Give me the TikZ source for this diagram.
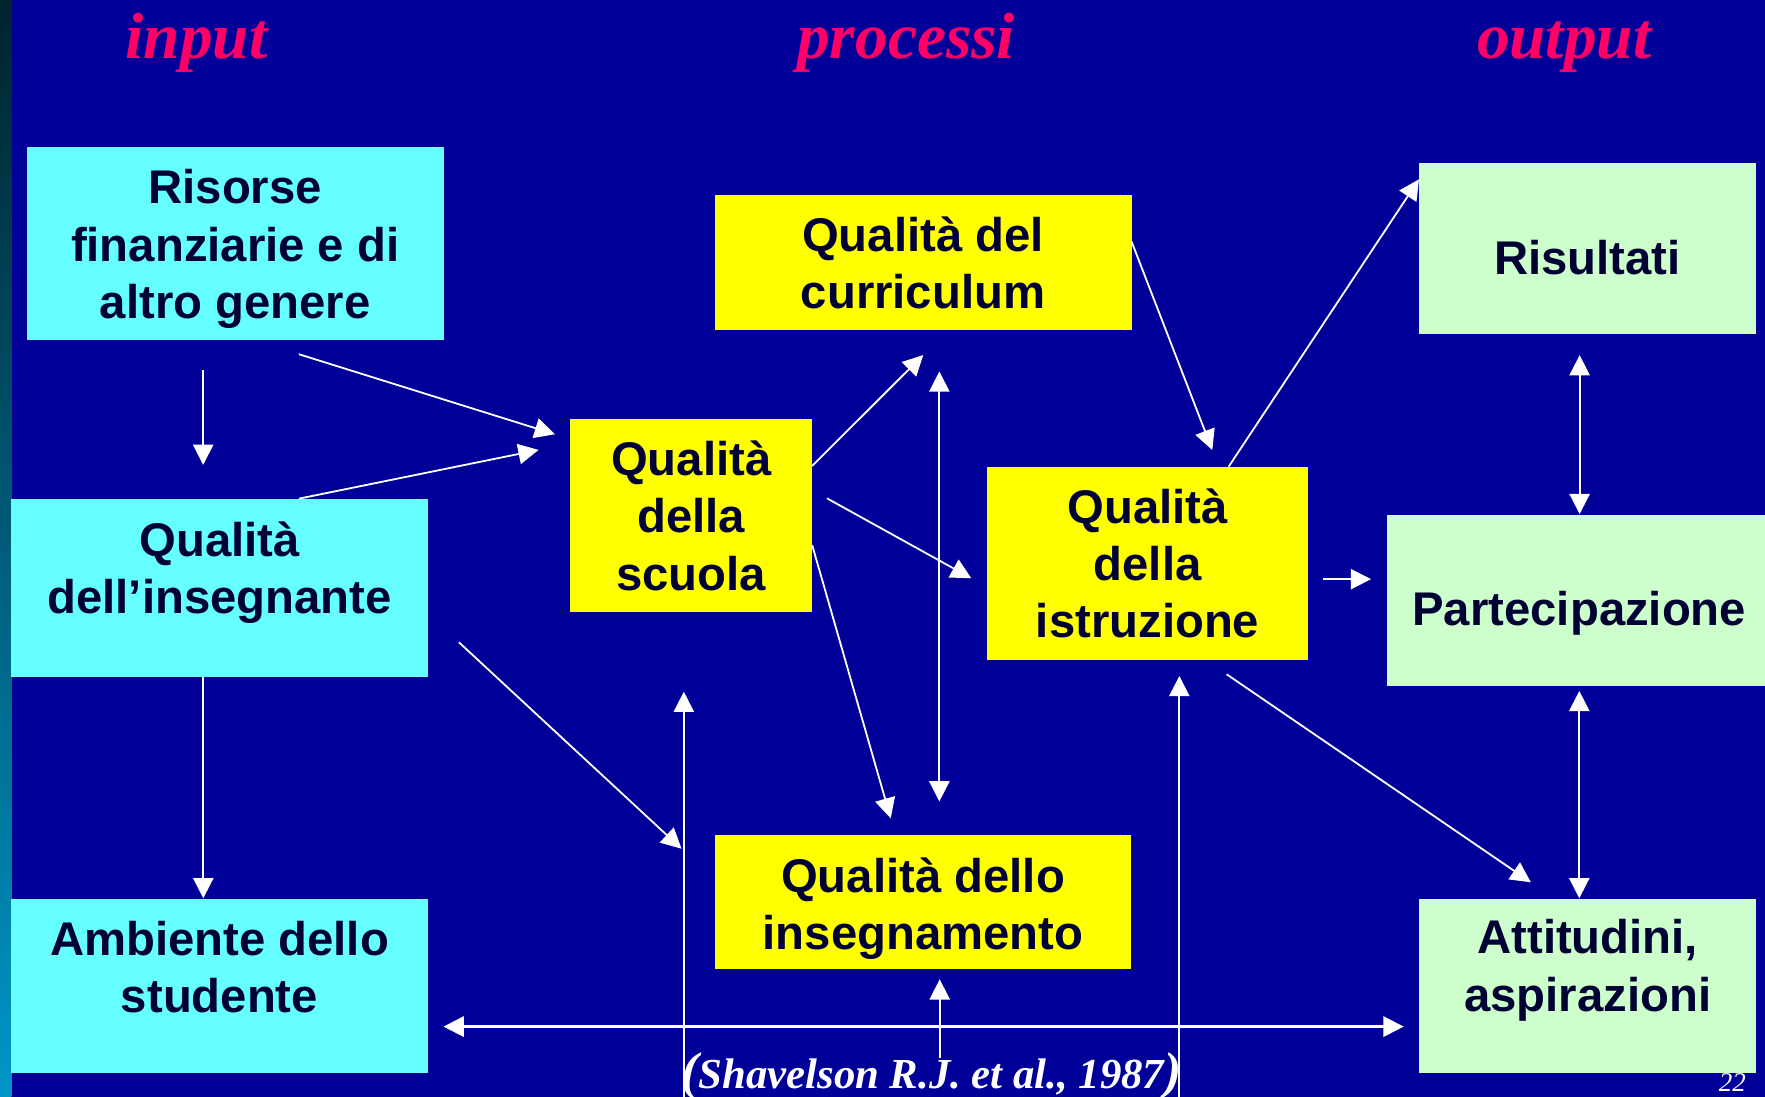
\documentclass[tikz,border=0pt]{standalone}
\usepackage{fontspec}
\setmainfont{Liberation Serif}
\setsansfont{Liberation Sans}
\usetikzlibrary{arrows.meta}
\definecolor{bg}{RGB}{0,0,153}
\definecolor{cyanbox}{RGB}{102,255,255}
\definecolor{yellowbox}{RGB}{255,255,0}
\definecolor{greenbox}{RGB}{204,255,204}
\definecolor{boxtext}{RGB}{0,0,51}
\definecolor{titlered}{RGB}{255,0,102}
\definecolor{stripA}{RGB}{0,35,45}
\definecolor{stripB}{RGB}{0,110,140}
\definecolor{stripC}{RGB}{0,150,200}
\newcommand{\ls}{\rule[-5.5pt]{0pt}{25.5pt}}
\newcommand{\bigpar}[1]{{\fontsize{23}{26}\selectfont #1}}
\tikzset{
  box/.style={rectangle, inner sep=0pt, outer sep=0pt},
  cbox/.style={box, fill=cyanbox},
  ybox/.style={box, fill=yellowbox},
  gbox/.style={box, fill=greenbox},
  lbl/.style={anchor=north, align=center, inner sep=0pt, text=boxtext,
    font=\sffamily\bfseries\fontsize{21}{25.5}\selectfont},
  ttl/.style={anchor=base, inner sep=0pt, text=titlered,
    font=\rmfamily\bfseries\itshape\fontsize{29}{34}\selectfont},
  arr/.style={draw=white, line width=0.8pt, -{Triangle[length=9pt,width=9pt]}},
  darr/.style={draw=white, line width=0.8pt,
    {Triangle[length=9pt,width=9pt]}-{Triangle[length=9pt,width=9pt]}},
  plainline/.style={draw=white, line width=0.8pt}
}
\begin{document}
\begin{tikzpicture}[x=0.5pt,y=-0.5pt]
\useasboundingbox (0,0) rectangle (1568,974.5);
\clip (0,0) rectangle (1568,974.5);
\fill[bg] (0,0) rectangle (1568,974.5);
\shade[top color=stripA, middle color=stripB, bottom color=stripC] (0,0) rectangle (10,974.5);

% titles
\node[ttl] (tin) at (174.5,52) {input};
\node[ttl] (tpr) at (805,52) {processi};
\node[ttl] (tout) at (1389.5,52) {output};

% boxes
\node[cbox, minimum width=185pt, minimum height=85.75pt] (risorse) at (209,216.25) {};
\node[cbox, minimum width=185pt, minimum height=79.2pt] (insegnante) at (195,522.2) {};
\node[cbox, minimum width=185pt, minimum height=77.2pt] (ambiente) at (195,875.8) {};
\node[ybox, minimum width=107.4pt, minimum height=85.6pt] (scuola) at (614.1,457.8) {};
\node[ybox, minimum width=185.15pt, minimum height=60pt] (curriculum) at (820.15,233.2) {};
\node[ybox, minimum width=142.5pt, minimum height=85.85pt] (istruzione) at (1019.5,500.45) {};
\node[ybox, minimum width=185pt, minimum height=59.8pt] (insegnamento) at (820,801.3) {};
\node[gbox, minimum width=149.7pt, minimum height=75.85pt] (risultati) at (1410.3,220.85) {};
\node[gbox, minimum width=168pt, minimum height=75.75pt] (partecipazione) at (1400,533.35) {};
\node[gbox, minimum width=149.5pt, minimum height=77.2pt] (attitudini) at (1410.5,875.8) {};

% box texts
\node[lbl] (risorseT) at (209,140.6) {\ls Risorse\\\ls finanziarie e di\\\ls altro genere};
\node[lbl] (insegnanteT) at (195,453.8) {\ls Qualità\\\ls dell’insegnante};
\node[lbl] (ambienteT) at (195,808.4) {\ls Ambiente dello\\\ls studente};
\node[lbl] (scuolaT) at (614.1,382) {\ls Qualità\\\ls della\\\ls scuola};
\node[lbl] (curriculumT) at (820,183) {\ls Qualità del\\\ls curriculum};
\node[lbl] (istruzioneT) at (1019.5,424.3) {\ls Qualità\\\ls della\\\ls istruzione};
\node[lbl] (insegnamentoT) at (820,752.1) {\ls Qualità dello\\\ls insegnamento};
\node[lbl] (risultatiT) at (1410.3,203.4) {\ls Risultati};
\node[lbl] (partecipazioneT) at (1403,515.2) {\ls Partecipazione};
\node[lbl] (attitudiniT) at (1410.5,806.9) {\ls Attitudini,\\\ls aspirazioni};

% connector end points
\coordinate (a1s) at (180.5,329);   \coordinate (a1e) at (180.5,413);
\coordinate (a2s) at (265.6,314.7); \coordinate (a2e) at (493,385.8);
\coordinate (a3s) at (265.6,443);   \coordinate (a3e) at (478.5,399.7);
\coordinate (a4s) at (180.6,601);   \coordinate (a4e) at (180.6,798);
\coordinate (a5s) at (407.7,570.6); \coordinate (a5e) at (605.5,754);
\coordinate (a6s) at (607.5,980);   \coordinate (a6e) at (607.5,614.5);
\coordinate (a7s) at (1047.7,980);  \coordinate (a7e) at (1047.7,600.5);
\coordinate (a8s) at (394,912);     \coordinate (a8e) at (1247,912);
\coordinate (a9s) at (834.8,940);   \coordinate (a9e) at (834.8,870);
\coordinate (a10s) at (834.5,330);  \coordinate (a10e) at (834.5,712);
\coordinate (a11s) at (721.5,414);  \coordinate (a11e) at (820.2,315.4);
\coordinate (a12s) at (734.7,442.7); \coordinate (a12e) at (862.9,513.7);
\coordinate (a13s) at (721.5,484.2); \coordinate (a13e) at (791.3,727);
\coordinate (a14s) at (1005.3,214.7); \coordinate (a14e) at (1077,399.8);
\coordinate (a15s) at (1091.5,414.6); \coordinate (a15e) at (1260.6,159.3);
\coordinate (a16s) at (1175,514.5); \coordinate (a16e) at (1218,514.5);
\coordinate (a17s) at (1089.7,599); \coordinate (a17e) at (1360,783.8);
\coordinate (a18s) at (1403.3,315.5); \coordinate (a18e) at (1403.3,456.7);
\coordinate (a19s) at (1403,613.8); \coordinate (a19e) at (1403,798);

% connectors
\draw[arr] (a1s) -- (a1e);
\draw[arr] (a2s) -- (a2e);
\draw[arr] (a3s) -- (a3e);
\draw[arr] (a4s) -- (a4e);
\draw[arr] (a5s) -- (a5e);
\draw[arr] (a6s) -- (a6e);
\draw[arr] (a7s) -- (a7e);
\draw[darr, line width=1pt] (a8s) -- (a8e);
\draw[arr] (a9s) -- (a9e);
\draw[darr] (a10s) -- (a10e);
\draw[arr] (a11s) -- (a11e);
\draw[arr] (a12s) -- (a12e);
\draw[arr] (a13s) -- (a13e);
\draw[arr] (a14s) -- (a14e);
\draw[arr] (a15s) -- (a15e);
\draw[arr] (a16s) -- (a16e);
\draw[arr] (a17s) -- (a17e);
\draw[darr] (a18s) -- (a18e);
\draw[darr] (a19s) -- (a19e);

% citation and page number
\node[anchor=base, inner sep=0pt, text=white,
  font=\rmfamily\bfseries\itshape\fontsize{19}{22}\selectfont] (cite) at (827.5,966.6)
  {\bigpar{(}Shavelson R.J. et al., 1987\bigpar{)}};
\node[anchor=base, inner sep=0pt, text=white,
  font=\rmfamily\itshape\fontsize{12}{14}\selectfont] (pagenum) at (1539,970) {22};
\end{tikzpicture}
\end{document}
